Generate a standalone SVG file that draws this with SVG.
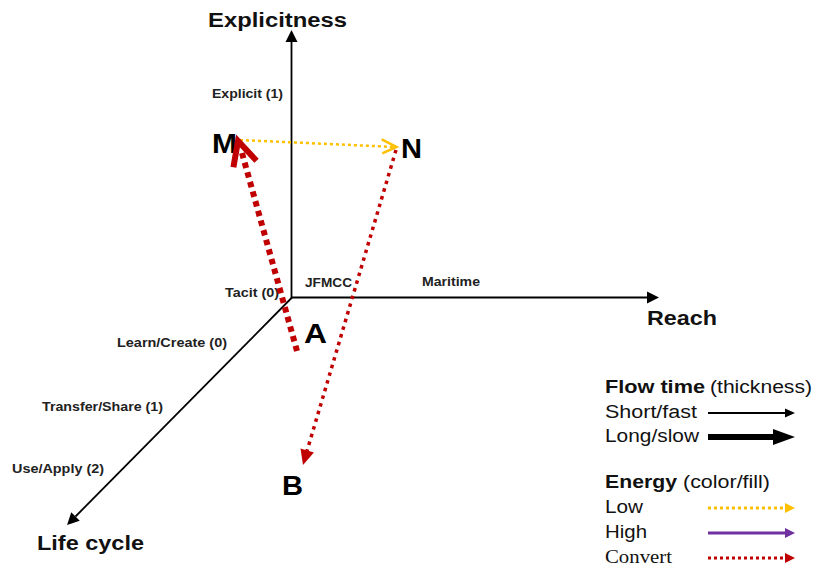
<svg xmlns="http://www.w3.org/2000/svg" width="817" height="569" viewBox="0 0 817 569">
<style>
.ax{stroke:#000;stroke-width:1.8;fill:none}
.big{font-family:"Liberation Sans",Arial,sans-serif;font-weight:bold;font-size:20px;fill:#111}
.pt{font-family:"Liberation Sans",Arial,sans-serif;font-weight:bold;font-size:27px;fill:#000}
.sm{font-family:"Liberation Sans",Arial,sans-serif;font-weight:bold;font-size:12px;fill:#222}
.lg{font-family:"Liberation Sans",Arial,sans-serif;font-size:18px;fill:#111}
.lgb{font-family:"Liberation Sans",Arial,sans-serif;font-size:18px;font-weight:bold;fill:#111}
.lgs{font-family:"Liberation Serif","Times New Roman",serif;font-size:18px;fill:#111}
.red{stroke:#C00000;fill:none}
.yel{stroke:#FFC000;fill:none}
</style>
<defs>
<marker id="mAx" markerUnits="userSpaceOnUse" orient="auto" refX="0" refY="0" markerWidth="12" markerHeight="12" overflow="visible"><path d="M0,-6 L12,0 L0,6 z" fill="#000"/></marker>
<marker id="mThin" markerUnits="userSpaceOnUse" orient="auto" refX="0" refY="0" markerWidth="10" markerHeight="10" overflow="visible"><path d="M0,-4.5 L10,0 L0,4.5 z" fill="#000"/></marker>
<marker id="mThick" markerUnits="userSpaceOnUse" orient="auto" refX="0" refY="0" markerWidth="22" markerHeight="16" overflow="visible"><path d="M0,-8 L22,0 L0,8 z" fill="#000"/></marker>
<marker id="mLow" markerUnits="userSpaceOnUse" orient="auto" refX="0" refY="0" markerWidth="10" markerHeight="10" overflow="visible"><path d="M0,-5 L10,0 L0,5 z" fill="#FFC000"/></marker>
<marker id="mHigh" markerUnits="userSpaceOnUse" orient="auto" refX="0" refY="0" markerWidth="10" markerHeight="10" overflow="visible"><path d="M0,-5 L10,0 L0,5 z" fill="#7030A0"/></marker>
<marker id="mRed" markerUnits="userSpaceOnUse" orient="auto" refX="0" refY="0" markerWidth="10" markerHeight="10" overflow="visible"><path d="M0,-5 L10,0 L0,5 z" fill="#C00000"/></marker>
</defs>

<g id="axes">
<line class="ax" x1="291.5" y1="298" x2="291.5" y2="42" marker-end="url(#mAx)"/>
<line class="ax" x1="291" y1="297.5" x2="647" y2="297.5" marker-end="url(#mAx)"/>
<line class="ax" x1="292" y1="297.5" x2="75.5" y2="516.5" marker-end="url(#mAx)"/>
</g>

<g id="axis-labels">
<text class="big" x="208" y="27" textLength="139" lengthAdjust="spacingAndGlyphs">Explicitness</text>
<text class="big" x="647" y="325" textLength="70" lengthAdjust="spacingAndGlyphs">Reach</text>
<text class="big" x="37" y="550" textLength="107" lengthAdjust="spacingAndGlyphs">Life cycle</text>
<text class="sm" x="212" y="98" textLength="71" lengthAdjust="spacingAndGlyphs">Explicit (1)</text>
<text class="sm" x="225" y="297" textLength="54" lengthAdjust="spacingAndGlyphs">Tacit (0)</text>
<text class="sm" x="305" y="287" textLength="47" lengthAdjust="spacingAndGlyphs">JFMCC</text>
<text class="sm" x="422" y="286" textLength="58" lengthAdjust="spacingAndGlyphs">Maritime</text>
<text class="sm" x="117" y="347" textLength="110" lengthAdjust="spacingAndGlyphs">Learn/Create (0)</text>
<text class="sm" x="42" y="411" textLength="121" lengthAdjust="spacingAndGlyphs">Transfer/Share (1)</text>
<text class="sm" x="12" y="473" textLength="92" lengthAdjust="spacingAndGlyphs">Use/Apply (2)</text>
</g>

<g id="node-M"><text class="pt" x="212" y="153" textLength="25" lengthAdjust="spacingAndGlyphs">M</text></g>
<g id="node-N"><text class="pt" x="401" y="158" textLength="21" lengthAdjust="spacingAndGlyphs">N</text></g>
<g id="node-A"><text class="pt" x="304" y="343" textLength="23" lengthAdjust="spacingAndGlyphs">A</text></g>
<g id="node-B"><text class="pt" x="282" y="495" textLength="21" lengthAdjust="spacingAndGlyphs">B</text></g>

<g id="connectors">
<line class="yel" x1="240" y1="140" x2="395" y2="147" stroke-width="2.5" stroke-dasharray="3 3"/>
<polyline class="yel" points="381.7,139.4 396.5,147 382.3,153.4" stroke-width="2.5"/>
<line class="red" x1="297" y1="351" x2="242" y2="153" stroke-width="6" stroke-dasharray="5.5 4.5"/>
<polyline class="red" points="233.4,167.3 238,141 256.5,160.7" stroke-width="6" stroke-linejoin="miter"/>
<line class="red" x1="396" y1="150" x2="307" y2="451" stroke-width="3.5" stroke-dasharray="3.5 4.5"/>
<polygon points="313.9,452.6 303,465 300.5,448.6" fill="#C00000"/>
</g>

<g id="legend">
<text class="lgb" x="605" y="393" textLength="100" lengthAdjust="spacingAndGlyphs">Flow time</text>
<text class="lg" x="710" y="393" textLength="102" lengthAdjust="spacingAndGlyphs">(thickness)</text>
<text class="lg" x="605" y="418" textLength="92" lengthAdjust="spacingAndGlyphs">Short/fast</text>
<line x1="708" y1="413" x2="785" y2="413" stroke="#000" stroke-width="2" marker-end="url(#mThin)"/>
<text class="lg" x="605" y="442" textLength="94" lengthAdjust="spacingAndGlyphs">Long/slow</text>
<line x1="708" y1="437" x2="773" y2="437" stroke="#000" stroke-width="6" marker-end="url(#mThick)"/>
<text class="lgb" x="605" y="488" textLength="72" lengthAdjust="spacingAndGlyphs">Energy</text>
<text class="lg" x="683" y="488" textLength="87" lengthAdjust="spacingAndGlyphs">(color/fill)</text>
<text class="lg" x="605" y="513" textLength="38" lengthAdjust="spacingAndGlyphs">Low</text>
<line x1="708" y1="508" x2="785" y2="508" stroke="#FFC000" stroke-width="3" stroke-dasharray="3 3" marker-end="url(#mLow)"/>
<text class="lg" x="605" y="538" textLength="42" lengthAdjust="spacingAndGlyphs">High</text>
<line x1="708" y1="533" x2="785" y2="533" stroke="#7030A0" stroke-width="3" marker-end="url(#mHigh)"/>
<text class="lgs" x="605" y="563" textLength="67" lengthAdjust="spacingAndGlyphs">Convert</text>
<line x1="708" y1="558" x2="785" y2="558" stroke="#C00000" stroke-width="3" stroke-dasharray="3 3" marker-end="url(#mRed)"/>
</g>
</svg>
